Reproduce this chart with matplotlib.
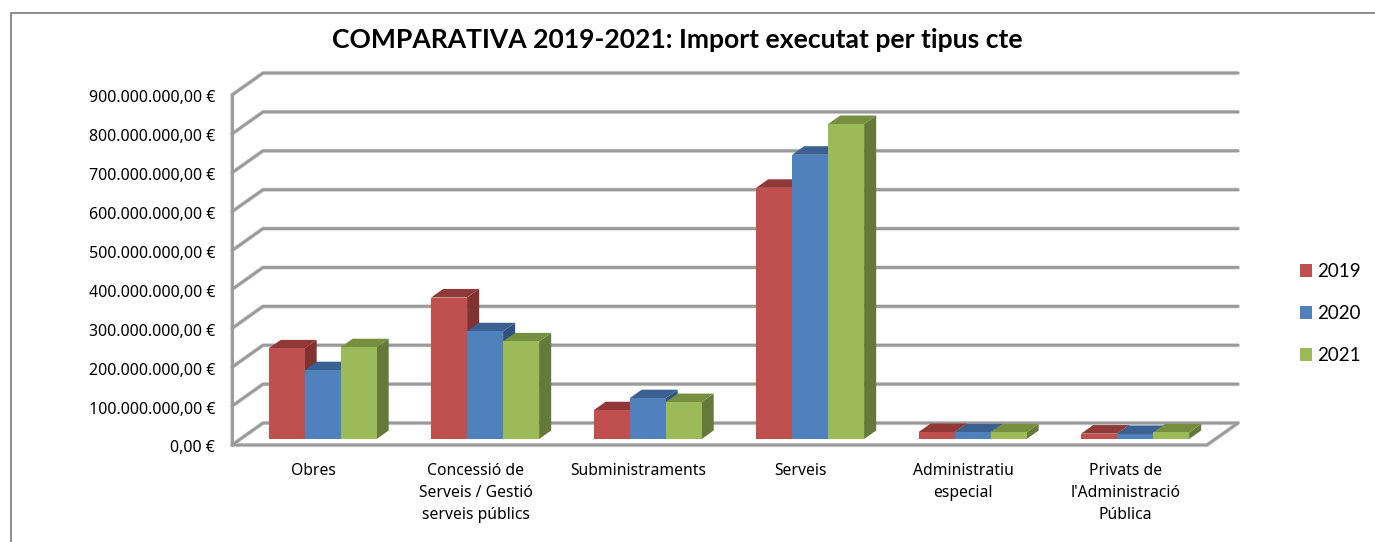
import matplotlib
matplotlib.use("Agg")
import matplotlib.pyplot as plt
from matplotlib.lines import Line2D
from matplotlib.patches import Polygon
from matplotlib.transforms import ScaledTranslation

categories = [
    "Obres",
    "Concessió de\nServeis / Gestió\nserveis públics",
    "Subministraments",
    "Serveis",
    "Administratiu\nespecial",
    "Privats de\nl'Administració\nPública",
]
years = ["2019", "2020", "2021"]
values_2019 = [233e6, 364e6, 74e6, 646e6, 18e6, 14e6]
values_2020 = [177e6, 277e6, 105e6, 731e6, 17e6, 13e6]
values_2021 = [236e6, 251e6, 95e6, 810e6, 17e6, 17e6]
y_ticks = [i * 100e6 for i in range(10)]
y_labels = [
    "0,00 €",
    "100.000.000,00 €",
    "200.000.000,00 €",
    "300.000.000,00 €",
    "400.000.000,00 €",
    "500.000.000,00 €",
    "600.000.000,00 €",
    "700.000.000,00 €",
    "800.000.000,00 €",
    "900.000.000,00 €",
]

series = [values_2019, values_2020, values_2021]
front_colors = ["#C0504D", "#4F81BD", "#9BBB59"]
top_colors = ["#913937", "#3A6191", "#76903F"]
side_colors = ["#803230", "#30527F", "#657A3A"]
grid_color = "#9A9A9A"

# fake 3d: depth offset of the back wall, in data units
DEPTH_X = 31 / 162.5
DEPTH_Y = 56.5e6
BAR_WIDTH = 36 / 162.5
BAR_FRONT = 0.27
BAR_BACK = 0.66

W, H = 1375, 542
fig = plt.figure(figsize=(W / 100, H / 100), dpi=100)
ax = fig.add_axes([232 / W, 1 - 445 / H, 975 / W, 350 / H])
ax.set_xlim(0, 6)
ax.set_ylim(0, 900e6)
for spine in ax.spines.values():
    spine.set_visible(False)
ax.patch.set_visible(False)


def wall_line(xs, ys):
    # soft halo under the line, the reference is a blurred screenshot
    ax.plot(xs, ys, color="#D8D8D8", lw=3.0, clip_on=False, zorder=1,
            solid_capstyle="round", solid_joinstyle="round")
    ax.plot(xs, ys, color=grid_color, lw=2.0, clip_on=False, zorder=2,
            solid_capstyle="round", solid_joinstyle="round")


# back wall gridlines and the diagonals on the left wall
for tick in y_ticks:
    wall_line([0, DEPTH_X, 6 + DEPTH_X], [tick, tick + DEPTH_Y, tick + DEPTH_Y])
wall_line([0, 0], [0, 900e6])
wall_line([0, 6, 6 + DEPTH_X], [0, 0, DEPTH_Y])

# bars, left to right so the next one covers the side of the previous one
order = 10
legend_handles = []
for s, values in enumerate(series):
    legend_handles.append(Polygon([[0, 0]], color=front_colors[s], lw=0))
for c in range(len(categories)):
    start = c + 0.5 - 1.5 * BAR_WIDTH + 0.006
    for s, values in enumerate(series):
        x0 = start + s * BAR_WIDTH + BAR_FRONT * DEPTH_X
        x1 = x0 + BAR_WIDTH
        base = BAR_FRONT * DEPTH_Y
        top = base + values[c]
        dx = (BAR_BACK - BAR_FRONT) * DEPTH_X
        dy = (BAR_BACK - BAR_FRONT) * DEPTH_Y
        ax.add_patch(Polygon([[x1, base], [x1 + dx, base + dy], [x1 + dx, top + dy], [x1, top]],
                             color=side_colors[s], lw=0, clip_on=False, zorder=order))
        ax.add_patch(Polygon([[x0, top], [x1, top], [x1 + dx, top + dy], [x0 + dx, top + dy]],
                             color=top_colors[s], lw=0, clip_on=False, zorder=order))
        ax.bar(x0, values[c], BAR_WIDTH, bottom=base, align="edge",
               color=front_colors[s], lw=0, clip_on=False, zorder=order + 1)
        order += 2

ax.set_xticks([c + 0.5 for c in range(len(categories))])
ax.set_xticklabels(categories, fontfamily="Noto Sans", fontsize=11.3, linespacing=1.49)
ax.set_yticks(y_ticks)
ax.set_yticklabels(y_labels, fontfamily="Noto Sans", fontsize=11.5)
ax.tick_params(axis="x", length=0, pad=13)
ax.tick_params(axis="y", length=0, pad=12)

# nudge the value labels down a little
for label in ax.get_yticklabels():
    label.set_transform(label.get_transform() + ScaledTranslation(0, -1.5 / 100, fig.dpi_scale_trans))

fig.text(677 / W, 1 - 39.5 / H, "COMPARATIVA 2019-2021: Import executat per tipus cte",
         ha="center", va="center", fontfamily="Lato", fontweight="bold", fontsize=19.1)

legend = fig.legend(legend_handles, years, loc="upper left", bbox_to_anchor=(1300 / W, 1 - 263 / H),
                    frameon=False, handlelength=0.65, handleheight=0.65, handletextpad=0.27,
                    labelspacing=1.33, borderpad=0, borderaxespad=0,
                    prop={"family": "Lato", "size": 13.5})

# chart frame, cropped on the right and at the bottom
fig.add_artist(Line2D([11 / W, 11 / W, 1], [0, 1 - 13 / H, 1 - 13 / H], color="#8C8C8C", lw=1.4))

fig.savefig("out.png", dpi=100)
